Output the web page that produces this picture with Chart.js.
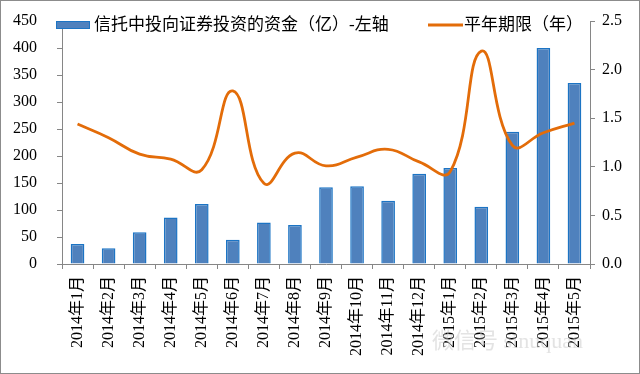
<!DOCTYPE html>
<html>
<head>
<meta charset="utf-8">
<script src="https://cdn.jsdelivr.net/npm/chart.js@4"></script>
<style>
    html, body { margin: 0; padding: 0; background: #fff; }
    #box { width: 640px; height: 374px; }
</style>
</head>
<body>
<div id="box"><canvas id="chart" width="640" height="374"></canvas></div>
<script>
const months = ['2014年1月', '2014年2月', '2014年3月', '2014年4月', '2014年5月', '2014年6月',
    '2014年7月', '2014年8月', '2014年9月', '2014年10月', '2014年11月', '2014年12月',
    '2015年1月', '2015年2月', '2015年3月', '2015年4月', '2015年5月'];
const fundValues = [37, 29, 59, 86, 111, 45, 77, 72, 142, 144, 117, 167, 178, 106, 245, 400, 335];
const termValues = [1.44, 1.30, 1.13, 1.08, 0.97, 1.78, 0.83, 1.14, 1.01, 1.10, 1.18, 1.05, 0.95, 2.19, 1.22, 1.35, 1.45];
const leftTicks = [0, 50, 100, 150, 200, 250, 300, 350, 400, 450];
const rightTicks = [0, 0.5, 1.0, 1.5, 2.0, 2.5];

const serif = "'Liberation Serif', 'Noto Sans CJK SC', serif";
const axisColor = '#868686';

// border round the whole picture, legend drawn inside the plot area like the original
const decorPlugin = {
    id: 'decor',
    beforeDraw(c) {
        const ctx = c.ctx;
        ctx.save();
        ctx.fillStyle = '#fff';
        ctx.fillRect(0, 0, c.width, c.height);
        ctx.restore();
    },
    afterDraw(c) {
        const ctx = c.ctx;
        const ds = c.data.datasets;
        ctx.save();
        ctx.strokeStyle = '#8c8c8c';
        ctx.lineWidth = 1;
        ctx.strokeRect(0.5, 0.5, c.width - 1, c.height - 1);

        ctx.font = '17px ' + serif;
        ctx.textBaseline = 'middle';
        // bar swatch
        ctx.fillStyle = '#4f81bd';
        ctx.fillRect(56, 21, 34, 8);
        ctx.strokeStyle = '#1c74c4';
        ctx.strokeRect(56.5, 21.5, 33, 7);
        ctx.fillStyle = '#000';
        ctx.fillText(ds[0].label, 94, 26);
        // line swatch
        ctx.strokeStyle = '#e36c09';
        ctx.lineWidth = 3;
        ctx.beginPath();
        ctx.moveTo(428, 25);
        ctx.lineTo(463, 25);
        ctx.stroke();
        ctx.fillText(ds[1].label, 464, 26);

        // faint watermark
        ctx.font = '22px ' + serif;
        ctx.fillStyle = 'rgba(200,200,200,0.5)';
        ctx.fillText('微信号 sinuquan', 432, 342);
        ctx.restore();
    }
};

// keep the tick padding from pushing the plot area down
function fixSide(width) {
    return s => {
        s.width = width;
        s.paddingTop = 8;
        s.paddingBottom = 8;
    };
}

const ctx = document.getElementById('chart').getContext('2d');
const chart = new Chart(ctx, {
    type: 'bar',
    data: {
        labels: months,
        datasets: [{
            type: 'bar',
            label: '信托中投向证券投资的资金（亿）-左轴',
            data: fundValues,
            backgroundColor: '#4f81bd',
            borderColor: '#1c74c4',
            borderWidth: 1.5,
            barPercentage: 0.44,
            categoryPercentage: 1,
            yAxisID: 'y',
            order: 1
        }, {
            type: 'line',
            label: '平年期限（年）',
            data: termValues,
            borderColor: '#e36c09',
            borderWidth: 2.8,
            tension: 0.45,
            pointRadius: 0,
            fill: false,
            yAxisID: 'y1',
            order: 0
        }]
    },
    options: {
        responsive: false,
        animation: false,
        layout: { padding: { top: 21, left: 0, right: 0, bottom: 0 } },
        plugins: {
            legend: { display: false },
            tooltip: { enabled: false }
        },
        scales: {
            x: {
                grid: { offset: true, drawOnChartArea: false, tickLength: 5, color: axisColor },
                border: { color: axisColor },
                ticks: {
                    minRotation: 90,
                    maxRotation: 90,
                    autoSkip: false,
                    padding: 7,
                    color: '#000',
                    font: { family: serif, size: 16 }
                },
                afterFit: s => { s.height = 110; }
            },
            y: {
                position: 'left',
                min: 0,
                max: 450,
                afterBuildTicks: s => { s.ticks = leftTicks.map(v => ({ value: v })); },
                grid: { drawOnChartArea: false, tickLength: 5, color: axisColor },
                border: { color: axisColor },
                ticks: { color: '#000', padding: 20, font: { family: serif, size: 16 } },
                afterFit: fixSide(62)
            },
            y1: {
                position: 'right',
                min: 0,
                max: 2.5,
                afterBuildTicks: s => { s.ticks = rightTicks.map(v => ({ value: v })); },
                grid: { drawOnChartArea: false, tickLength: 5, color: axisColor },
                border: { color: axisColor },
                ticks: {
                    color: '#000',
                    padding: 7,
                    font: { family: serif, size: 16 },
                    callback: v => Number(v).toFixed(1)
                },
                afterFit: fixSide(50)
            }
        }
    },
    plugins: [decorPlugin]
});
</script>
</body>
</html>
